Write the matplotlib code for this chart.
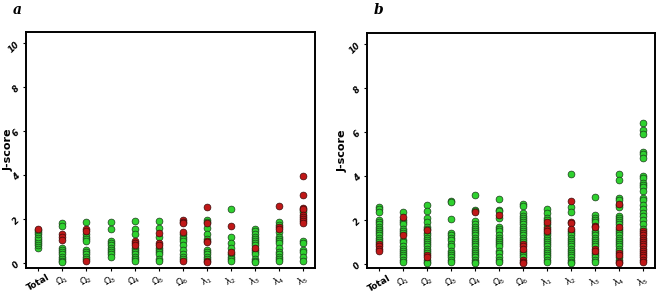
import matplotlib
matplotlib.use("Agg")
import matplotlib.pyplot as plt

categories = ["Total", "Ω$_1$", "Ω$_2$", "Ω$_3$", "Ω$_4$", "Ω$_5$", "Ω$_6$",
              "λ$_1$", "λ$_2$", "λ$_3$", "λ$_4$", "λ$_5$"]

# Panel a
a_green = [
    [0.7, 0.8, 0.9, 1.0, 1.1, 1.2, 1.3, 1.4, 1.5],
    [1.8, 1.7, 0.7, 0.6, 0.5, 0.4, 0.3, 0.2, 0.1, 0.05],
    [1.85, 1.3, 1.2, 1.1, 1.0, 0.6, 0.5, 0.4, 0.3, 0.2],
    [1.85, 1.55, 1.0, 0.9, 0.8, 0.7, 0.6, 0.5, 0.4, 0.3],
    [1.9, 1.55, 1.3, 0.7, 0.6, 0.5, 0.4, 0.3, 0.2, 0.1],
    [1.9, 1.6, 1.2, 0.7, 0.6, 0.5, 0.4, 0.2, 0.1],
    [1.3, 1.2, 1.1, 1.0, 0.8, 0.6, 0.4, 0.3, 0.2],
    [1.95, 1.85, 1.6, 1.3, 1.1, 0.6, 0.5, 0.4, 0.3, 0.2],
    [2.45, 1.2, 0.9, 0.7, 0.4, 0.3, 0.2, 0.1],
    [1.55, 1.45, 1.3, 1.2, 1.1, 1.0, 0.9, 0.8, 0.6, 0.5, 0.4, 0.2, 0.1, 0.05],
    [1.85, 1.75, 1.4, 1.2, 1.1, 1.0, 0.9, 0.7, 0.5, 0.4, 0.3, 0.2, 0.1],
    [2.4, 2.3, 1.0, 0.9, 0.6, 0.5, 0.3, 0.1],
]
a_red = [
    [1.55],
    [1.3, 1.2, 1.05],
    [1.55, 1.45, 0.1],
    [],
    [1.0, 0.9, 0.8],
    [1.35, 0.9, 0.8],
    [1.95, 1.85, 1.8, 1.4, 0.1],
    [2.55, 1.8, 1.0, 0.95, 0.1, 0.05],
    [1.7, 0.5],
    [0.7],
    [2.6, 1.65, 1.55],
    [3.95, 3.1, 2.5, 2.45, 2.2, 2.1, 2.0, 1.9, 1.8],
]

# Panel b
b_green = [
    [2.6, 2.5, 2.35, 2.0, 1.9, 1.8, 1.7, 1.6, 1.5, 1.4, 1.3, 1.2, 1.1, 1.0],
    [2.35, 2.0, 1.9, 1.8, 1.6, 1.5, 1.4, 1.1, 1.0, 0.8, 0.7, 0.6, 0.5, 0.4, 0.3, 0.2, 0.1],
    [2.7, 2.4, 2.1, 1.9, 1.7, 1.6, 1.4, 1.3, 1.2, 1.1, 1.0, 0.9, 0.8, 0.7, 0.6, 0.5, 0.2, 0.1, 0.05],
    [2.85, 2.8, 2.05, 1.4, 1.3, 1.2, 1.1, 0.9, 0.8, 0.6, 0.5, 0.4, 0.3, 0.2, 0.1],
    [3.15, 2.45, 2.4, 1.95, 1.8, 1.7, 1.6, 1.5, 1.4, 1.3, 1.2, 1.1, 1.0, 0.9, 0.8, 0.7, 0.6,
     0.5, 0.4, 0.3, 0.2, 0.1, 0.05],
    [2.95, 2.45, 2.4, 2.1, 1.7, 1.6, 1.5, 1.3, 1.2, 1.1, 1.0, 0.9, 0.8, 0.6, 0.5, 0.3, 0.2, 0.1],
    [2.75, 2.65, 2.3, 2.2, 2.1, 2.0, 1.9, 1.8, 1.7, 1.6, 1.5, 1.4, 1.3, 1.2, 1.1, 1.0, 0.6, 0.5,
     0.4, 0.3],
    [2.5, 2.3, 2.1, 2.0, 1.8, 1.7, 1.4, 1.3, 1.2, 1.1, 1.0, 0.9, 0.8, 0.7, 0.6, 0.5, 0.4, 0.3,
     0.2, 0.1],
    [4.1, 2.6, 2.35, 1.5, 1.4, 1.3, 1.2, 1.1, 1.0, 0.9, 0.8, 0.7, 0.6, 0.5, 0.4, 0.3, 0.2, 0.1, 0.05],
    [3.05, 2.25, 2.1, 2.0, 1.9, 1.5, 1.4, 1.3, 1.2, 1.1, 1.0, 0.9, 0.8, 0.5, 0.4, 0.3, 0.2, 0.1],
    [4.1, 3.8, 3.0, 2.9, 2.7, 2.6, 2.2, 2.1, 2.0, 1.9, 1.8, 1.6, 1.5, 1.4, 1.3, 1.2, 1.1, 1.0,
     0.9, 0.8, 0.7, 0.6, 0.3, 0.2],
    [6.4, 6.1, 5.9, 5.1, 5.0, 4.8, 4.0, 3.9, 3.7, 3.6, 3.5, 3.3, 3.0, 2.9, 2.7, 2.5, 2.3, 2.2,
     2.0, 1.8, 1.6],
]
b_red = [
    [0.9, 0.8, 0.7, 0.6],
    [2.15, 1.3],
    [1.55, 0.4, 0.3],
    [],
    [2.35],
    [2.25],
    [0.9, 0.8, 0.7, 0.2, 0.1, 0.05],
    [1.9, 1.6, 1.5],
    [2.85, 1.9, 1.85, 1.6],
    [1.75, 1.7, 0.7, 0.6],
    [2.75, 1.7, 0.5, 0.4, 0.1, 0.05],
    [1.5, 1.4, 1.3, 1.2, 1.1, 1.0, 0.9, 0.8, 0.7, 0.6, 0.5, 0.4, 0.3, 0.2, 0.1],
]

yticks = [0, 2, 4, 6, 8, 10]

GREEN = "#2fd12f"
RED = "#c01818"

fig = plt.figure(figsize=(6.6, 2.93), dpi=100)
ax_a = fig.add_axes([0.040, 0.087, 0.437, 0.804])
ax_b = fig.add_axes([0.556, 0.084, 0.436, 0.803])


def draw(ax, greens, reds, letter, lx, ylab_ax):
    for i, vals in enumerate(greens):
        ax.scatter([i] * len(vals), vals, s=24, c=GREEN, edgecolors="#1a3a1a",
                   linewidths=0.5, zorder=3)
    for i, vals in enumerate(reds):
        ax.scatter([i] * len(vals), vals, s=24, c=RED, edgecolors="#3a0a0a",
                   linewidths=0.5, zorder=3)
    ax.set_xlim(-0.5, len(categories) - 0.5)
    ax.set_ylim(-0.2, 10.5)
    ax.set_yticks(yticks)
    ax.set_yticklabels([str(t) for t in yticks], rotation=45, fontsize=6,
                       fontweight="bold", fontstyle="italic")
    ax.set_xticks(range(len(categories)))
    ax.set_xticklabels(categories, rotation=30, fontsize=6.5, ha="center")
    ax.get_xticklabels()[0].set_fontweight("bold")
    for sp in ax.spines.values():
        sp.set_linewidth(1.4)
    ax.tick_params(axis="both", direction="out", length=2.5, width=0.8, pad=1)
    ax.set_ylabel("J-score", fontsize=8, fontweight="bold")
    ax.yaxis.set_label_coords(ylab_ax, 0.5)
    fig.text(lx, 0.965, letter, fontsize=10, fontweight="bold", fontstyle="italic",
             family="DejaVu Serif", ha="left", va="center")


draw(ax_a, a_green, a_red, "a", 13 / 660, -0.044)
draw(ax_b, b_green, b_red, "b", 374 / 660, -0.068)

fig.savefig("out.png", dpi=100)
